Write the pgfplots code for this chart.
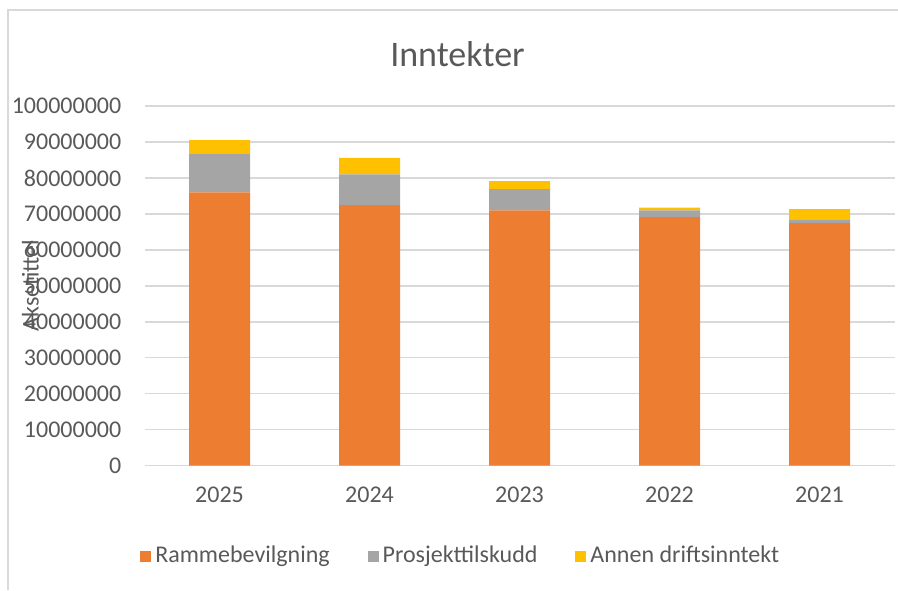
\documentclass[border=0pt]{standalone}
\usepackage{pgfplots}
\pgfplotsset{compat=1.18}
\usepackage{fontspec}
\setmainfont{Carlito}
\definecolor{txt}{HTML}{595959}
\definecolor{gridc}{HTML}{D9D9D9}
\definecolor{c1}{HTML}{ED7D31}
\definecolor{c2}{HTML}{A5A5A5}
\definecolor{c3}{HTML}{FFC000}
\pgfplotsset{mylegend/.style={legend image code/.code={\fill[##1] (0pt,-2.75pt) rectangle (5.5pt,2.75pt);}}}
\begin{document}
\begin{tikzpicture}
\useasboundingbox (0,0) rectangle (449pt,-295pt);
\draw[gridc, line width=0.8pt] (4pt,-295pt) -- (4pt,-5pt) -- (449pt,-5pt);
\node[anchor=base, text=txt, font=\fontsize{18}{21}\selectfont, inner sep=0pt] at (228.75pt,-33.35pt) {Inntekter};
\begin{axis}[
  at={(72.25pt,-232.75pt)}, anchor=south west,
  scale only axis, width=375pt, height=179.75pt,
  ybar stacked, bar width=30.5pt,
  xmin=-0.5, xmax=4.5, ymin=0, ymax=100000000,
  xtick={0,1,2,3,4}, xticklabels={2025,2024,2023,2022,2021},
  scaled y ticks=false,
  ytick={0,10000000,20000000,30000000,40000000,50000000,60000000,70000000,80000000,90000000,100000000},
  yticklabels={0,10000000,20000000,30000000,40000000,50000000,60000000,70000000,80000000,90000000,100000000},
  axis line style={draw=none},
  major tick length=0pt,
  ymajorgrids, grid style={gridc, line width=0.8pt},
  tick label style={text=txt, font=\fontsize{12}{14}\selectfont, inner sep=0pt},
  yticklabel style={xshift=-11.4pt},
  xticklabel style={yshift=-10.75pt},
  ylabel={Aksetittel},
  ylabel style={at={(axis description cs:-0.152,0.5)}, anchor=center, text=txt, font=\fontsize{12}{14}\selectfont},
  legend columns=3,
  legend style={at={(axis description cs:0.423,-0.2517)}, anchor=center, draw=none, fill=none,
    font=\fontsize{12}{14}\selectfont, text=txt,
    /tikz/every even column/.append style={column sep=17pt}},
]
\addplot[fill=c1, draw=none, mylegend] coordinates {(0,76000000) (1,72400000) (2,71000000) (3,69100000) (4,67400000)};
\addplot[fill=c2, draw=none, mylegend] coordinates {(0,10600000) (1,8600000) (2,5900000) (3,1900000) (4,1100000)};
\addplot[fill=c3, draw=none, mylegend] coordinates {(0,3900000) (1,4600000) (2,2200000) (3,700000) (4,2800000)};
\legend{Rammebevilgning,Prosjekttilskudd,Annen driftsinntekt}
\end{axis}
\end{tikzpicture}
\end{document}
